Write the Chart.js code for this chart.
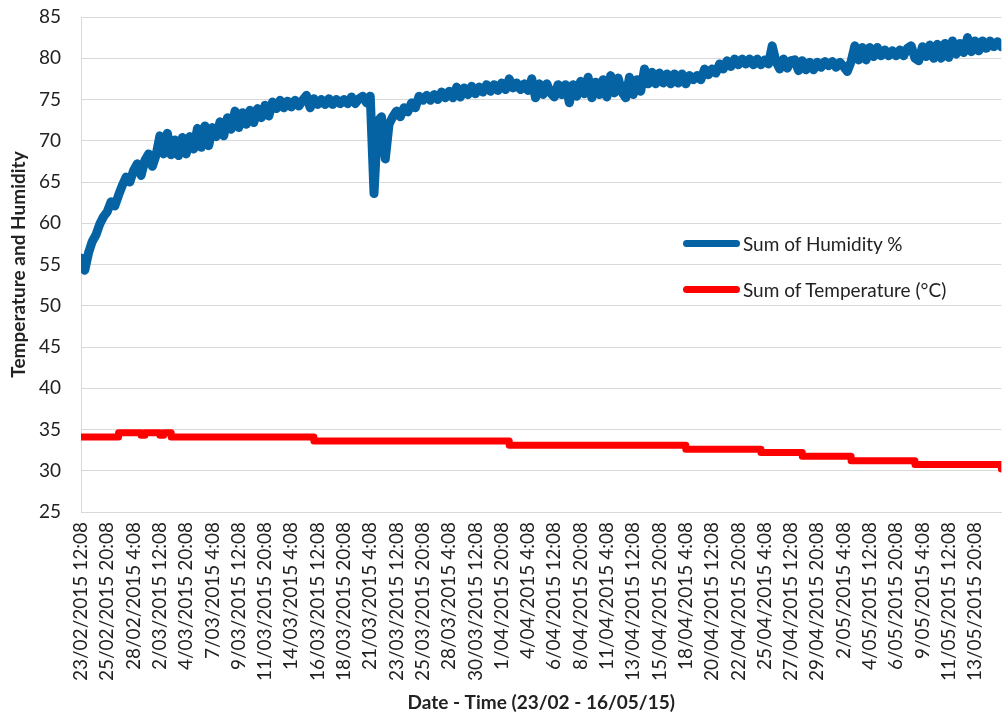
<!DOCTYPE html>
<html>
<head>
<meta charset="utf-8">
<title>Temperature and Humidity</title>
<script src="https://cdn.jsdelivr.net/npm/chart.js@4.4.1/dist/chart.umd.min.js"></script>
<style>
  body { margin: 0; background: #fff; }
  #wrap { position: relative; width: 1008px; height: 717px; }
  .key { position: absolute; left: 683px; height: 24px; display: flex; align-items: center;
         font: 19px Lato, sans-serif; color: #222; white-space: nowrap; }
  .key i { display: inline-block; width: 57px; height: 7px; border-radius: 4px; margin-right: 3px; }
</style>
</head>
<body>
<div id="wrap">
  <canvas id="chart" width="1008" height="717"></canvas>
</div>
<script>
// one reading every 8 h, a date label every 7 readings (56 h)
const STEPS_PER_LABEL = 7;

const tickLabels = [
  '23/02/2015 12:08', '25/02/2015 20:08', '28/02/2015 4:08', '2/03/2015 12:08',
  '4/03/2015 20:08', '7/03/2015 4:08', '9/03/2015 12:08', '11/03/2015 20:08',
  '14/03/2015 4:08', '16/03/2015 12:08', '18/03/2015 20:08', '21/03/2015 4:08',
  '23/03/2015 12:08', '25/03/2015 20:08', '28/03/2015 4:08', '30/03/2015 12:08',
  '1/04/2015 20:08', '4/04/2015 4:08', '6/04/2015 12:08', '8/04/2015 20:08',
  '11/04/2015 4:08', '13/04/2015 12:08', '15/04/2015 20:08', '18/04/2015 4:08',
  '20/04/2015 12:08', '22/04/2015 20:08', '25/04/2015 4:08', '27/04/2015 12:08',
  '29/04/2015 20:08', '2/05/2015 4:08', '4/05/2015 12:08', '6/05/2015 20:08',
  '9/05/2015 4:08', '11/05/2015 12:08', '13/05/2015 20:08'
];

// humidity %, one value per 8 h reading (23/02 12:08 -> 16/05 4:08)
const humidity = [
  55.8, 54.3, 56.4, 57.8, 58.6, 59.9, 60.8, 61.4, 62.6, 62.1,
  63.4, 64.6, 65.6, 65.0, 66.4, 67.2, 65.8, 67.6, 68.4, 66.9,
  68.3, 70.6, 68.4, 70.9, 68.3, 70.1, 68.2, 70.4, 68.4, 70.5,
  69.0, 71.5, 69.2, 71.8, 69.4, 71.6, 70.5, 72.3, 70.6, 72.8,
  71.4, 73.6, 71.6, 73.4, 72.0, 73.7, 72.2, 73.9, 72.8, 74.3,
  73.0, 74.7, 73.9, 74.9, 74.0, 74.8, 74.1, 74.9, 74.2, 74.9,
  75.5, 74.0, 75.1, 74.4, 75.0, 74.4, 75.1, 74.4, 75.0, 74.5,
  75.0, 74.5, 75.3, 74.5, 75.1, 75.4, 74.6, 75.4, 63.6, 72.4,
  72.9, 67.8, 72.0, 72.9, 73.6, 72.9, 74.0, 73.5, 74.6, 74.0,
  75.4, 74.9, 75.5, 74.9, 75.6, 75.0, 75.9, 75.2, 76.0, 75.2,
  76.5, 75.3, 76.4, 75.6, 76.6, 75.7, 76.5, 75.9, 76.8, 76.0,
  76.8, 76.1, 77.0, 76.2, 77.5, 76.4, 77.0, 76.2, 76.9, 76.1,
  77.5, 75.2, 76.9, 75.6, 76.9, 75.8, 75.3, 76.8, 75.6, 76.8,
  74.6, 76.8, 75.4, 77.2, 75.7, 77.7, 75.2, 77.1, 75.6, 77.4,
  75.3, 77.9, 75.8, 77.6, 75.9, 75.2, 77.7, 75.6, 77.4, 76.0,
  78.7, 76.9, 78.3, 76.9, 78.2, 77.0, 78.1, 76.9, 78.1, 77.0,
  78.1, 76.9, 77.9, 77.4, 77.9, 77.4, 78.7, 78.0, 78.7, 78.2,
  79.3, 78.7, 79.7, 79.0, 79.9, 79.2, 79.9, 79.3, 79.9, 79.2,
  79.9, 79.2, 79.8, 79.3, 81.5, 79.6, 78.7, 79.9, 78.8, 79.7,
  79.8, 78.5, 79.7, 78.6, 79.5, 78.6, 79.5, 78.9, 79.6, 79.1,
  79.6, 78.9, 79.5, 79.0, 78.4, 79.6, 81.5, 79.8, 81.3, 79.8,
  81.3, 80.2, 81.3, 80.3, 81.0, 80.3, 80.9, 80.3, 81.0, 80.3,
  81.2, 81.5, 80.0, 79.7, 81.4, 80.2, 81.6, 80.0, 81.7, 80.0,
  81.8, 80.1, 82.1, 80.5, 81.8, 80.7, 82.5, 80.8, 82.1, 80.9,
  82.1, 81.2, 82.1, 81.4, 82.0, 81.4
];

// temperature only changes in steps: reading index where it changes, and the new value
const tempIndex = [0, 10, 16, 17, 21, 22, 24, 62, 114, 161, 181, 192, 205, 222, 245];
const tempValue = [34.1, 34.6, 34.3, 34.6, 34.3, 34.6, 34.1, 33.6, 33.1, 32.6, 32.2, 31.75, 31.2, 30.75, 30.2];

const yTicks = { min: 25, max: 85, step: 5 };

const BLUE = '#0563a4';
const RED = '#ff0000';
const GRID = '#d9d9d9';
const TEXT = '#222';
const FONT = 'Lato, "Open Sans", sans-serif';

const lastIndex = humidity.length - 1;

function buildChart() {
  const ctx = document.getElementById('chart');

  return new Chart(ctx, {
    type: 'line',
    data: {
      datasets: [
        {
          label: 'Sum of Humidity %',
          data: humidity.map((v, i) => ({ x: i, y: v })),
          borderColor: BLUE,
          backgroundColor: BLUE,
          borderWidth: 9,
          borderJoinStyle: 'round',
          borderCapStyle: 'round',
          pointRadius: 0,
          tension: 0
        },
        {
          label: 'Sum of Temperature (°C)',
          data: tempIndex.map((x, k) => ({ x: x, y: tempValue[k] })),
          borderColor: RED,
          backgroundColor: RED,
          borderWidth: 7,
          borderJoinStyle: 'round',
          borderCapStyle: 'round',
          pointRadius: 0,
          stepped: 'before'
        }
      ]
    },
    options: {
      responsive: false,
      animation: false,
      layout: { padding: { top: 17, right: 5, left: 0, bottom: 0 } },
      plugins: {
        legend: { display: false },
        tooltip: { enabled: false }
      },
      scales: {
        x: {
          type: 'linear',
          min: 0,
          max: lastIndex,
          grid: { display: false, drawTicks: false },
          border: { display: true, color: GRID, width: 1 },
          afterBuildTicks: (scale) => {
            scale.ticks = tickLabels.map((_, k) => ({ value: k * STEPS_PER_LABEL }));
          },
          afterFit: (scale) => { scale.height = 205; },
          ticks: {
            autoSkip: false,
            minRotation: 90,
            maxRotation: 90,
            padding: 10,
            color: TEXT,
            font: { family: FONT, size: 19 },
            callback: (v) => tickLabels[Math.round(v / STEPS_PER_LABEL)] || ''
          },
          title: {
            display: true,
            text: 'Date - Time (23/02 - 16/05/15)',
            color: TEXT,
            font: { family: FONT, size: 19, weight: 'bold' },
            padding: { top: 0, bottom: 3 }
          }
        },
        y: {
          min: yTicks.min,
          max: yTicks.max,
          grid: { color: GRID, lineWidth: 1, drawTicks: false },
          border: { display: true, color: GRID, width: 1 },
          afterFit: (scale) => {
            // wide tick padding would otherwise push the plot down
            scale.width = 81;
            scale.paddingTop = 0;
            scale.paddingBottom = 0;
          },
          ticks: {
            stepSize: yTicks.step,
            padding: 20,
            color: TEXT,
            font: { family: FONT, size: 19 }
          },
          title: {
            display: true,
            text: 'Temperature and Humidity',
            color: TEXT,
            font: { family: FONT, size: 19, weight: 'bold' },
            padding: { top: 7, bottom: 0 }
          }
        }
      }
    }
  });
}

// legend sits inside the plot, to the right of the curves
function buildKey(chart) {
  const wrap = document.getElementById('wrap');
  const rows = [231, 277];
  chart.data.datasets.forEach((ds, k) => {
    const row = document.createElement('div');
    row.className = 'key';
    row.style.top = rows[k] + 'px';
    const swatch = document.createElement('i');
    swatch.style.background = ds.borderColor;
    row.appendChild(swatch);
    row.appendChild(document.createTextNode(ds.label));
    wrap.appendChild(row);
  });
}

window.addEventListener('DOMContentLoaded', () => {
  const chart = buildChart();
  buildKey(chart);
});
</script>
</body>
</html>
